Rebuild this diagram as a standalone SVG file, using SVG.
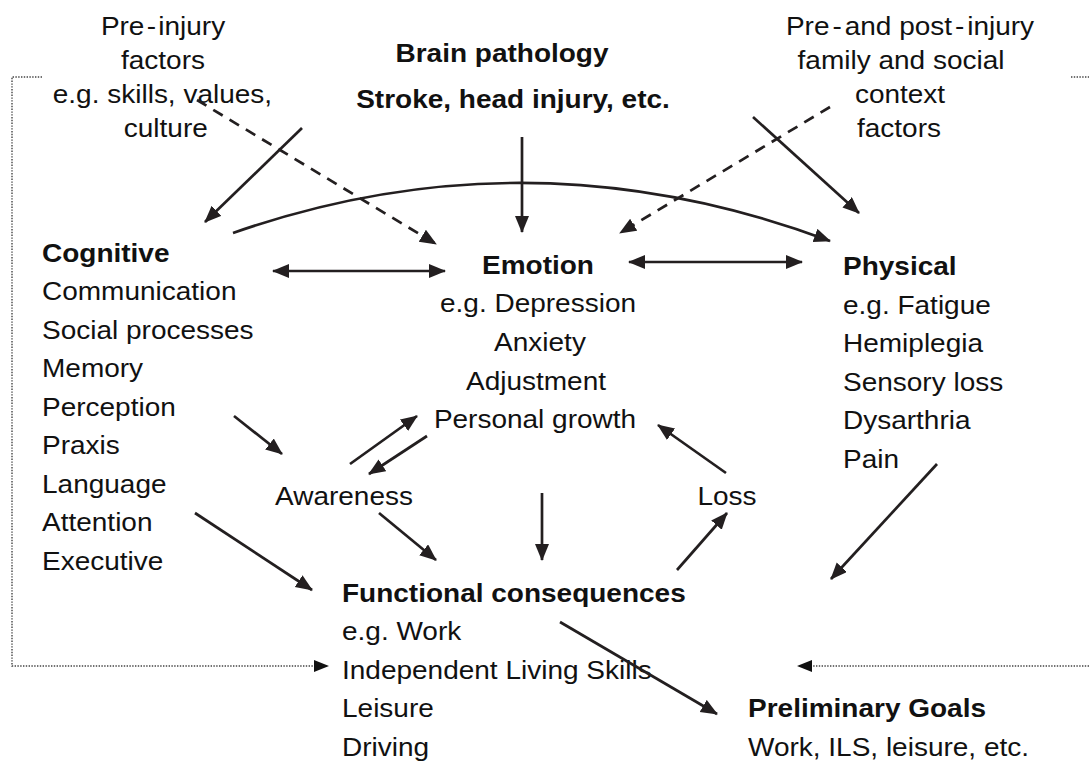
<svg xmlns="http://www.w3.org/2000/svg" width="1089" height="762" viewBox="0 0 1089 762">
<style>
text{font-family:"Liberation Sans",Arial,sans-serif;font-size:25px;fill:#111}
.b{font-weight:bold}
.m{text-anchor:middle}
.ln{fill:none;stroke:#231f20;stroke-width:2.7}
.da{stroke-dasharray:11 8}
.dot{fill:none;stroke:#444;stroke-width:1.4;stroke-dasharray:1.4 1.4}
</style>
<defs>
<marker id="ah" markerUnits="userSpaceOnUse" markerWidth="20" markerHeight="16" refX="16" refY="7" orient="auto-start-reverse">
<path d="M0,0 L17,7 L0,14 z" fill="#231f20"/>
</marker>
<marker id="dh" markerUnits="userSpaceOnUse" markerWidth="16" markerHeight="14" refX="14" refY="6" orient="auto">
<path d="M0,0 L15,6 L0,12 z" fill="#111"/>
</marker>
</defs>
<rect width="1089" height="762" fill="#fff"/>

<g id="pre-injury">
<text transform="translate(163,35) scale(1.12,1)" class="m"><tspan x="0">Pre<tspan dx="2">-</tspan><tspan dx="2">injury</tspan></tspan><tspan x="0" y="34">factors</tspan><tspan x="-0.5" y="68">e.g. skills, values,</tspan><tspan x="2.5" y="102">culture</tspan></text>
</g>

<g id="brain">
<text transform="translate(502,62) scale(1.12,1)" class="m b">Brain pathology</text>
<text transform="translate(513,108) scale(1.12,1)" class="m b">Stroke, head injury, etc.</text>
</g>

<g id="family">
<text transform="translate(910,35) scale(1.12,1)" class="m">Pre<tspan dx="2.6">-</tspan><tspan dx="2.6">and post</tspan><tspan dx="2.6">-</tspan><tspan dx="2.6">injury</tspan></text>
<text transform="translate(901,69) scale(1.12,1)" class="m">family and social</text>
<text transform="translate(900,103) scale(1.12,1)" class="m">context</text>
<text transform="translate(899,137) scale(1.12,1)" class="m">factors</text>
</g>

<g id="cognitive">
<text transform="translate(42,262) scale(1.12,1)"><tspan x="0" class="b">Cognitive</tspan><tspan x="0" dy="38.5">Communication</tspan><tspan x="0" dy="38.5">Social processes</tspan><tspan x="0" dy="38.5">Memory</tspan><tspan x="0" dy="38.5">Perception</tspan><tspan x="0" dy="38.5">Praxis</tspan><tspan x="0" dy="38.5">Language</tspan><tspan x="0" dy="38.5">Attention</tspan><tspan x="0" dy="38.5">Executive</tspan></text>
</g>

<g id="emotion">
<text transform="translate(538,273.5) scale(1.12,1)" class="m b">Emotion</text>
<text transform="translate(538,312.2) scale(1.12,1)" class="m">e.g. Depression</text>
<text transform="translate(540,350.9) scale(1.12,1)" class="m">Anxiety</text>
<text transform="translate(536,389.6) scale(1.12,1)" class="m">Adjustment</text>
<text transform="translate(535,428.3) scale(1.12,1)" class="m">Personal growth</text>
</g>

<g id="physical">
<text transform="translate(843,275) scale(1.12,1)"><tspan x="0" class="b">Physical</tspan><tspan x="0" dy="38.6">e.g. Fatigue</tspan><tspan x="0" dy="38.6">Hemiplegia</tspan><tspan x="0" dy="38.6">Sensory loss</tspan><tspan x="0" dy="38.6">Dysarthria</tspan><tspan x="0" dy="38.6">Pain</tspan></text>
</g>

<g id="awareness">
<text transform="translate(344,505) scale(1.12,1)" class="m">Awareness</text>
</g>

<g id="loss">
<text transform="translate(727,505) scale(1.12,1)" class="m">Loss</text>
</g>

<g id="functional">
<text transform="translate(342,602) scale(1.12,1)"><tspan x="0" class="b">Functional consequences</tspan><tspan x="0" dy="38.5">e.g. Work</tspan><tspan x="0" dy="38.5">Independent Living Skills</tspan><tspan x="0" dy="38.5">Leisure</tspan><tspan x="0" dy="38.5">Driving</tspan></text>
</g>

<g id="goals">
<text transform="translate(748,717) scale(1.12,1)"><tspan x="0" class="b">Preliminary Goals</tspan><tspan x="0" dy="39">Work, ILS, leisure, etc.</tspan></text>
</g>

<g id="connectors">
<path class="ln" d="M302,128 L205,222" marker-end="url(#ah)"/>
<path class="ln da" d="M197,100 L436,244" marker-end="url(#ah)"/>
<path class="ln" d="M233,233 Q530,129 830,241" marker-end="url(#ah)"/>
<path class="ln" d="M522,137 L522,232" marker-end="url(#ah)"/>
<path class="ln da" d="M830,107 L620,233" marker-end="url(#ah)"/>
<path class="ln" d="M753,117 L859,213" marker-end="url(#ah)"/>
<path class="ln" d="M273,271 L445,271" marker-start="url(#ah)" marker-end="url(#ah)"/>
<path class="ln" d="M629,262 L802,262" marker-start="url(#ah)" marker-end="url(#ah)"/>
<path class="ln" d="M234,416 L282,454" marker-end="url(#ah)"/>
<path class="ln" d="M350,464 L417,416" marker-end="url(#ah)"/>
<path class="ln" d="M427,436 L369,474" marker-end="url(#ah)"/>
<path class="ln" d="M379,513 L436,560" marker-end="url(#ah)"/>
<path class="ln" d="M542,493 L542,560" marker-end="url(#ah)"/>
<path class="ln" d="M677,570 L727,513" marker-end="url(#ah)"/>
<path class="ln" d="M726,473 L658,425" marker-end="url(#ah)"/>
<path class="ln" d="M195,513 L312,590" marker-end="url(#ah)"/>
<path class="ln" d="M560,622 L717,714" marker-end="url(#ah)"/>
<path class="ln" d="M937,464 L831,579" marker-end="url(#ah)"/>
<path class="dot" d="M42,77 L12,77 L12,666 L328,666" marker-end="url(#dh)"/>
<path class="dot" d="M1071,77 L1089,77"/>
<path class="dot" d="M1089,666 L798,666" marker-end="url(#dh)"/>
</g>
</svg>
